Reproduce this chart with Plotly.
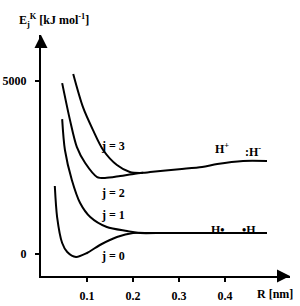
import plotly.graph_objects as go

# Data
R_j0 = [0.030, 0.035, 0.046, 0.057, 0.076, 0.100, 0.128, 0.165, 0.200, 0.237, 0.300, 0.400, 0.491]
E_j0 = [1965, 1069, 318, 58, -87, 29, 260, 491, 607, 607, 607, 607, 607]

R_j1 = [0.046, 0.052, 0.067, 0.085, 0.107, 0.143, 0.187, 0.215, 0.250]
E_j1 = [3900, 3005, 2139, 1474, 1069, 780, 665, 607, 607]

R_j2 = [0.046, 0.063, 0.078, 0.096, 0.122, 0.139, 0.172, 0.204, 0.222]
E_j2 = [4940, 3870, 3090, 2630, 2225, 2196, 2254, 2320, 2345]

R_j3 = [0.070, 0.091, 0.113, 0.135, 0.165, 0.193, 0.222, 0.237, 0.300, 0.350, 0.383, 0.439, 0.491]
E_j3 = [5200, 4250, 3580, 3005, 2570, 2370, 2345, 2370, 2450, 2515, 2600, 2688, 2688]

x_ticks = [0.1, 0.2, 0.3, 0.4]
x_tick_labels = ["0.1", "0.2", "0.3", "0.4"]
y_ticks = [0, 5000]
y_tick_labels = ["0", "5000"]

X_RANGE = [0, 0.541]
Y_RANGE = [-636, 6330]

FONT = "Liberation Serif"
fig = go.Figure()
line = dict(color="black", width=2)
for rx, ey in [(R_j0, E_j0), (R_j1, E_j1), (R_j2, E_j2), (R_j3, E_j3)]:
    fig.add_trace(go.Scatter(x=rx, y=ey, mode="lines", line=dict(line, shape="spline", smoothing=0.8),
                             showlegend=False, hoverinfo="skip"))

labels = [
    ("j = 3", 0.156, 3110),
    ("j = 2", 0.156, 1760),
    ("j = 1", 0.156, 1130),
    ("j = 0", 0.156, -60),
    ("H<sup>+</sup>", 0.393, 3060),
    ("<b>:</b>H<sup>-</sup>", 0.460, 2950),
    ("H•", 0.385, 690),
    ("•H", 0.452, 690),
]
annotations = []
for t, x, y in labels:
    annotations.append(dict(x=x, y=y, text=t, showarrow=False,
                            font=dict(family=FONT, size=12, color="black", weight="bold")))

# axis titles
annotations.append(dict(xref="paper", yref="paper", x=-0.095, y=1.0, yshift=15,
                        text="E<sub>j</sub><sup>K</sup> [kJ mol<sup>-1</sup>]", showarrow=False,
                        xanchor="left", yanchor="middle",
                        font=dict(family=FONT, size=12, color="black", weight="bold")))
annotations.append(dict(xref="paper", yref="paper", x=1.02, y=0, yshift=-18,
                        text="R [nm]", showarrow=False, xanchor="right", yanchor="middle",
                        font=dict(family=FONT, size=12, color="black", weight="bold")))
# arrowheads
annotations.append(dict(x=0, y=Y_RANGE[1], ax=0, ay=12, axref="pixel", ayref="pixel",
                        text="", showarrow=True, arrowhead=2, arrowsize=1.3, arrowwidth=2,
                        arrowcolor="black"))
annotations.append(dict(x=X_RANGE[1], y=Y_RANGE[0], ax=-12, ay=0,
                        text="", showarrow=True, arrowhead=2, arrowsize=1.3, arrowwidth=2,
                        arrowcolor="black"))

fig.update_layout(
    width=300, height=306,
    margin=dict(l=41, r=10, t=35, b=30),
    plot_bgcolor="white", paper_bgcolor="white",
    annotations=annotations,
    xaxis=dict(range=X_RANGE, showgrid=False, zeroline=False, showline=True, automargin=False,
               linecolor="black", linewidth=2, ticks="outside", ticklen=4, tickwidth=2,
               tickcolor="black", tickvals=x_ticks, ticktext=x_tick_labels,
               ticklabelstandoff=4,
               tickfont=dict(family=FONT, size=12, color="black", weight="bold")),
    yaxis=dict(range=Y_RANGE, showgrid=False, zeroline=False, showline=True, automargin=False,
               linecolor="black", linewidth=2, ticks="outside", ticklen=4, tickwidth=2,
               tickcolor="black", tickvals=y_ticks, ticktext=y_tick_labels,
               ticklabelstandoff=6,
               tickfont=dict(family=FONT, size=12, color="black", weight="bold")),
)
fig.write_html("out.html")
